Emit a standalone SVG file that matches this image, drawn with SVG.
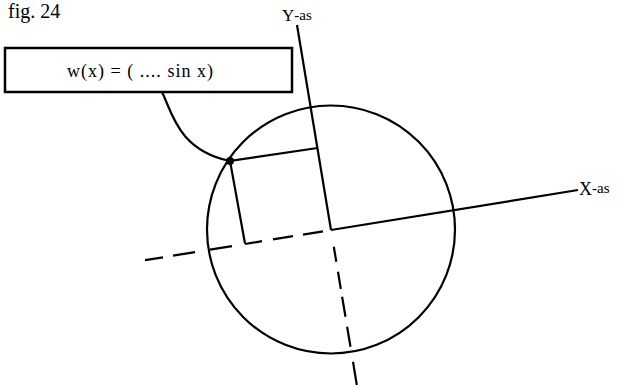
<svg xmlns="http://www.w3.org/2000/svg" width="618" height="385" viewBox="0 0 618 385">
<style>
.ln{stroke:#000;stroke-width:2.2;fill:none;stroke-linecap:butt}
.t{font-family:"Liberation Serif","Times New Roman",serif;fill:#000}
</style>
<rect width="618" height="385" fill="#fff"/>
<g id="title"><text class="t" x="8" y="18" font-size="20">fig. 24</text></g>
<g id="formula-box">
<rect x="5" y="48" width="287" height="44" fill="#fff" stroke="#000" stroke-width="2.5"/>
<text class="t" x="67" y="77" font-size="18" textLength="146" lengthAdjust="spacing">w(x) = ( .... sin x)</text>
</g>
<g id="circle"><circle cx="331" cy="229.5" r="124" class="ln"/></g>
<g id="y-axis">
<line x1="297" y1="25" x2="331" y2="230" class="ln"/>
<text class="t" x="282" y="21" font-size="17">Y<tspan font-size="15" dy="-1">-as</tspan></text>
</g>
<g id="x-axis">
<line x1="331" y1="230" x2="578" y2="190" class="ln"/>
<text class="t" x="579" y="195" font-size="18">X<tspan font-size="15" dy="-2">-as</tspan></text>
</g>
<g id="connectors">
<path d="M145,260.2 L163,257.3 M173,255.7 L195,252.1 M210,249.7 L232,246.1 M245,244 L262,241.2 M273,239.4 L293,236.2 M303,234.6 L323,231.3" class="ln"/>
<path d="M333.8,246.7 L336.3,261.7 M338,271.7 L340.8,289 M342.1,296.7 L345.5,316.7 M347.1,326.7 L350.5,346.7 M353,361.7 L356.8,385" class="ln"/>
<path d="M162,92 C172,112 178,150 230,161" class="ln"/>
<polyline points="317.5,148 230,161 245,243.5" class="ln"/>
<circle cx="230" cy="161" r="4" fill="#000"/>
</g>
</svg>
